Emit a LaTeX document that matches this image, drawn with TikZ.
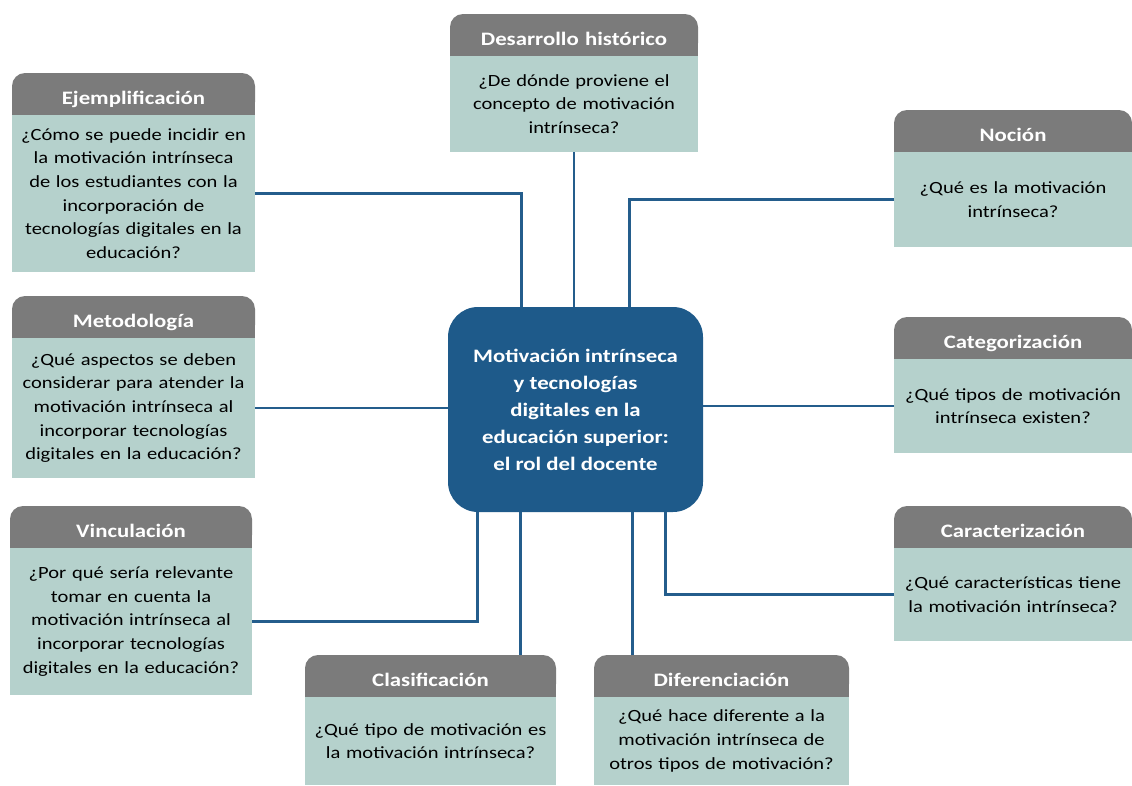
\documentclass[tikz,border=0pt]{standalone}
\usepackage{fontspec}
\setmainfont{Carlito}[FakeStretch=1.2]
\usetikzlibrary{positioning, backgrounds}

\definecolor{headgray}{HTML}{7B7B7B}
\definecolor{bodyteal}{HTML}{B5D1CC}
\definecolor{coreblue}{HTML}{1E5A8A}
\definecolor{linkblue}{HTML}{245D8C}

\begin{document}
\begin{tikzpicture}[x=1pt, y=-1pt, node distance=0pt,
	head/.style={text=white, font=\fontsize{19}{22}\selectfont\bfseries, text width=#1,
		text height=20pt, text depth=0pt, minimum height=42pt, inner xsep=0pt, outer sep=0pt,
		align=center, anchor=north west},
	body/.style 2 args={fill=bodyteal, font=\fontsize{17.1}{23.6}\selectfont, text width=#1,
		minimum height=#2, inner xsep=0pt, outer sep=0pt, align=center},
	core/.style={fill=coreblue, text=white, font=\fontsize{19}{27}\selectfont\bfseries,
		minimum width=255pt, minimum height=205pt, rounded corners=30pt, align=center, outer sep=0pt},
	link/.style={draw=linkblue, line width=2.8pt}]
	\useasboundingbox (0,0) rectangle (1132,785);

	\node[core] (core) at (575.5,409.5) {Motivación intrínseca\\y tecnologías\\digitales en la\\educación superior:\\el rol del docente};

	\node[head=248pt] (hHis) at (450,14)  {Desarrollo histórico};
	\node[body={248pt}{96pt}] (bHis) [below=of hHis] {¿De dónde proviene el\\concepto de motivación\\intrínseca?};
	\node[head=243pt] (hEje) at (12,73)   {Ejemplificación};
	\node[body={243pt}{157pt}] (bEje) [below=of hEje] {¿Cómo se puede incidir en\\la motivación intrínseca\\de los estudiantes con la\\incorporación de\\tecnologías digitales en la\\educación?};
	\node[head=238pt] (hNoc) at (894,110) {Noción};
	\node[body={238pt}{95pt}] (bNoc) [below=of hNoc] {¿Qué es la motivación\\intrínseca?};
	\node[head=243pt] (hMet) at (12,296)  {Metodología};
	\node[body={243pt}{140pt}] (bMet) [below=of hMet] {¿Qué aspectos se deben\\considerar para atender la\\motivación intrínseca al\\incorporar tecnologías\\digitales en la educación?};
	\node[head=238pt] (hCat) at (894,317) {Categorización};
	\node[body={238pt}{94pt}] (bCat) [below=of hCat] {¿Qué tipos de motivación\\intrínseca existen?};
	\node[head=242pt] (hVin) at (10,506)  {Vinculación};
	\node[body={242pt}{147pt}] (bVin) [below=of hVin] {¿Por qué sería relevante\\tomar en cuenta la\\motivación intrínseca al\\incorporar tecnologías\\digitales en la educación?};
	\node[head=238pt] (hCar) at (894,506) {Caracterización};
	\node[body={238pt}{93pt}] (bCar) [below=of hCar] {¿Qué características tiene\\la motivación intrínseca?};
	\node[head=251pt] (hCla) at (305,655) {Clasificación};
	\node[body={251pt}{88pt}] (bCla) [below=of hCla] {¿Qué tipo de motivación es\\la motivación intrínseca?};
	\node[head=255pt] (hDif) at (594,655) {Diferenciación};
	\node[body={255pt}{88pt}] (bDif) [below=of hDif] {¿Qué hace diferente a la\\motivación intrínseca de\\otros tipos de motivación?};

	% header tabs, rounded on top only
	\begin{scope}[on background layer]
		\foreach \h in {hHis, hEje, hNoc, hMet, hCat, hVin, hCar, hCla, hDif} {
			\fill[headgray, rounded corners=13pt] (\h.south west) rectangle (\h.north east);
			\fill[headgray] (\h.south west) rectangle ([yshift=14pt]\h.south east);
		}
	\end{scope}

	\draw[link] (bEje.east) -| ([xshift=-54pt]core.north);
	\draw[link] (bHis.south) -- (bHis.south |- core.north);
	\draw[link] (bNoc.west) -| ([xshift=54pt]core.north);
	\draw[link] (bMet.east) -- (bMet.east -| core.west);
	\draw[link] (bCat.west) -- (bCat.west -| core.east);
	\draw[link] (bVin.east) -| ([xshift=-98pt]core.south);
	\draw[link] ([xshift=-55pt]core.south) -- ([xshift=-55pt]core.south |- hCla.north);
	\draw[link] ([xshift=57pt]core.south) -- ([xshift=57pt]core.south |- hDif.north);
	\draw[link] (bCar.west) -| ([xshift=90pt]core.south);
\end{tikzpicture}
\end{document}
